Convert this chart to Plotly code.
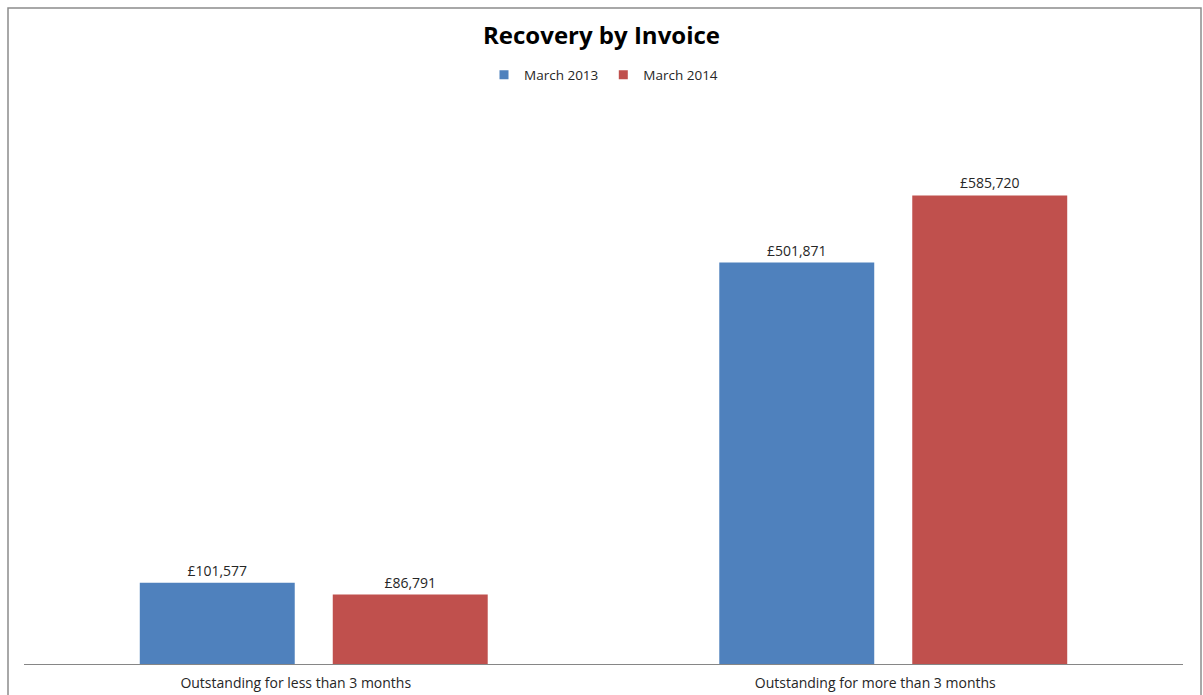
import plotly.graph_objects as go

categories = ["Outstanding for less than 3 months", "Outstanding for more than 3 months"]
series_names = ["March 2013", "March 2014"]
march_2013 = [101577, 501871]
march_2014 = [86791, 585720]
colors = ["#4f81bd", "#c0504d"]

W, H = 1203, 695
ML, MR, MT, MB = 24, 20, 104, 31
plot_w = W - ML - MR
plot_h = H - MT - MB

FONT = "Open Sans"
TEXT_COLOR = "#262626"

fig = go.Figure()
for name, vals, col in zip(series_names, [march_2013, march_2014], colors):
    fig.add_trace(go.Bar(
        name=name, x=categories, y=vals,
        marker=dict(color=col, line=dict(width=0)),
        texttemplate="£%{y:,.0f}", textposition="outside",
        textfont=dict(family=FONT, size=14, color=TEXT_COLOR),
        cliponaxis=False, showlegend=False,
    ))
    # small square legend keys
    fig.add_trace(go.Scatter(
        name=name, x=[None], y=[None], mode="markers",
        marker=dict(symbol="square", size=9, color=col),
        showlegend=True,
    ))

# outer chart frame
def px_x(px):
    return (px - ML) / plot_w

def px_y(py):
    return (H - MB - py) / plot_h

fig.add_shape(type="rect", xref="paper", yref="paper",
              x0=px_x(8), x1=px_x(1201), y0=px_y(720), y1=px_y(8),
              line=dict(color="#8c8c8c", width=1.5), fillcolor="rgba(0,0,0,0)",
              layer="below")

fig.update_layout(
    width=W, height=H,
    margin=dict(l=ML, r=MR, t=MT, b=MB, autoexpand=False),
    paper_bgcolor="white", plot_bgcolor="white",
    font=dict(family=FONT, size=14, color=TEXT_COLOR),
    title=dict(text="<b>Recovery by Invoice</b>", x=0.5, xanchor="center",
               y=1 - 36 / H, yanchor="middle",
               font=dict(family=FONT, size=24, color="#000000")),
    barmode="group", bargap=0.334, bargroupgap=0.197,
    showlegend=True,
    legend=dict(orientation="h", x=0.5, xanchor="center",
                y=px_y(75), yanchor="middle",
                font=dict(family=FONT, size=13.5, color=TEXT_COLOR),
                itemwidth=30, tracegroupgap=0),
    xaxis=dict(showline=True, linecolor="#868686", linewidth=1,
               ticks="", showgrid=False, zeroline=False,
               automargin=False, ticklabelstandoff=6, ticklabelshift=-18,
               tickfont=dict(family=FONT, size=14, color=TEXT_COLOR)),
    yaxis=dict(range=[0, 700000], visible=False, showgrid=False,
               zeroline=False, automargin=False),
)

fig.write_html("out.html")
